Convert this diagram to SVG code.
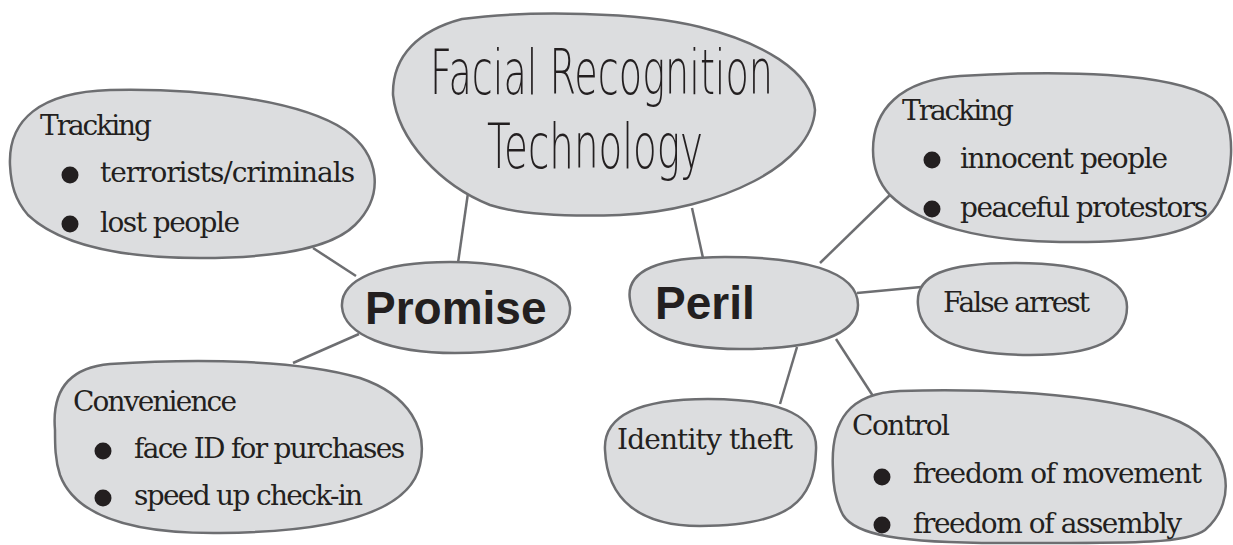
<svg xmlns="http://www.w3.org/2000/svg" width="1233" height="545" viewBox="0 0 1233 545">
  <style>
    .blob { fill: #dcdddf; stroke: #6d6e71; stroke-width: 2.5; }
    .link { stroke: #6d6e71; stroke-width: 2.5; fill: none; }
    .title { font-family: "DejaVu Sans ExtraLight", "DejaVu Sans", sans-serif; font-weight: 200; font-size: 36px; fill: #231f20; }
    .hub { font-family: "Liberation Sans", Arial, sans-serif; font-weight: bold; font-size: 46px; fill: #231f20; }
    .item { font-family: "DejaVu Serif", "Liberation Serif", serif; font-size: 28px; fill: #231f20; }
    .dot { fill: #231f20; }
  </style>

  <rect width="1233" height="545" fill="#ffffff"/>

  <!-- connectors -->
  <g id="connectors">
    <line class="link" x1="468" y1="193" x2="458" y2="263"/>
    <line class="link" x1="692" y1="208" x2="703" y2="258"/>
    <line class="link" x1="313" y1="248" x2="356" y2="276"/>
    <line class="link" x1="293" y1="363" x2="359" y2="334"/>
    <line class="link" x1="820" y1="263" x2="892" y2="193"/>
    <line class="link" x1="857" y1="293" x2="921" y2="287"/>
    <line class="link" x1="797" y1="347" x2="780" y2="404"/>
    <line class="link" x1="836" y1="339" x2="873" y2="396"/>
  </g>

  <!-- central topic: tall, narrow lettering -->
  <g id="node-title">
    <path class="blob" d="M 393,95 C 392,55 420,30 462,19 C 530,10 640,12 700,27 C 760,42 812,70 815,110 C 812,165 720,210 620,215 C 560,217 515,213 490,205 C 440,185 398,140 393,95 Z"/>
    <g transform="scale(1,1.75)">
      <text class="title" x="430" y="53.7" textLength="343" lengthAdjust="spacingAndGlyphs">Facial Recognition</text>
      <text class="title" x="487" y="96" textLength="216" lengthAdjust="spacingAndGlyphs">Technology</text>
    </g>
  </g>

  <!-- branch hubs -->
  <g id="node-promise">
    <path class="blob" d="M 342,307 C 340,280 380,262 450,262 C 520,262 568,280 570,307 C 572,335 530,353 455,353 C 390,353 344,335 342,307 Z"/>
    <text class="hub" x="365" y="324">Promise</text>
  </g>

  <g id="node-peril">
    <path class="blob" d="M 630,300 C 625,270 660,257 725,257 C 800,257 858,270 858,305 C 858,335 815,349 740,349 C 670,349 633,330 630,300 Z"/>
    <text class="hub" x="655" y="319">Peril</text>
  </g>

  <!-- promise leaves -->
  <g id="node-tracking-promise">
    <path class="blob" d="M 10,165 C 8,120 40,92 110,90 C 200,88 300,100 345,130 C 380,155 385,195 355,225 C 330,250 270,258 200,258 C 120,258 60,245 28,215 C 15,200 11,185 10,165 Z"/>
    <text class="item" x="40" y="135" textLength="112">Tracking</text>
    <circle class="dot" cx="70" cy="175" r="8.5"/>
    <text class="item" x="100" y="182" textLength="255">terrorists/criminals</text>
    <circle class="dot" cx="70" cy="224" r="8.5"/>
    <text class="item" x="100" y="232" textLength="140">lost people</text>
  </g>

  <g id="node-convenience">
    <path class="blob" d="M 55,430 C 52,395 65,368 110,364 C 200,358 300,360 360,378 C 410,395 428,430 420,465 C 410,510 340,532 220,533 C 130,534 75,515 60,475 C 55,460 55,445 55,430 Z"/>
    <text class="item" x="73" y="411" textLength="164">Convenience</text>
    <circle class="dot" cx="103" cy="451" r="8.5"/>
    <text class="item" x="134" y="458" textLength="271">face ID for purchases</text>
    <circle class="dot" cx="103" cy="498" r="8.5"/>
    <text class="item" x="134" y="505" textLength="229">speed up check-in</text>
  </g>

  <!-- peril leaves -->
  <g id="node-tracking-peril">
    <path class="blob" d="M 873,150 C 873,110 900,80 960,76 C 1060,70 1170,72 1212,98 C 1240,118 1236,190 1208,216 C 1182,238 1120,243 1060,242 C 980,241 920,225 890,195 C 878,182 873,168 873,150 Z"/>
    <text class="item" x="902" y="120" textLength="112">Tracking</text>
    <circle class="dot" cx="932" cy="160" r="8.5"/>
    <text class="item" x="960" y="168" textLength="208">innocent people</text>
    <circle class="dot" cx="932" cy="209" r="8.5"/>
    <text class="item" x="960" y="217" textLength="248">peaceful protestors</text>
  </g>

  <g id="node-false-arrest">
    <path class="blob" d="M 918,305 C 915,275 945,263 1015,263 C 1090,263 1127,280 1127,307 C 1127,340 1095,355 1030,355 C 960,355 920,338 918,305 Z"/>
    <text class="item" x="943" y="312" textLength="147">False arrest</text>
  </g>

  <g id="node-identity-theft">
    <path class="blob" d="M 605,450 C 603,415 640,399 708,399 C 785,399 818,418 816,450 C 815,500 790,526 700,526 C 640,526 607,500 605,450 Z"/>
    <text class="item" x="617" y="449" textLength="176">Identity theft</text>
  </g>

  <g id="node-control">
    <path class="blob" d="M 833,470 C 830,420 850,393 900,391 C 1000,388 1120,395 1180,422 C 1230,445 1240,500 1205,530 C 1185,545 1120,543 1000,543 C 900,543 855,535 843,515 C 835,500 833,485 833,470 Z"/>
    <text class="item" x="852" y="435" textLength="98">Control</text>
    <circle class="dot" cx="882" cy="477" r="8.5"/>
    <text class="item" x="913" y="483" textLength="289">freedom of movement</text>
    <circle class="dot" cx="882" cy="525" r="8.5"/>
    <text class="item" x="913" y="533" textLength="269">freedom of assembly</text>
  </g>
</svg>
